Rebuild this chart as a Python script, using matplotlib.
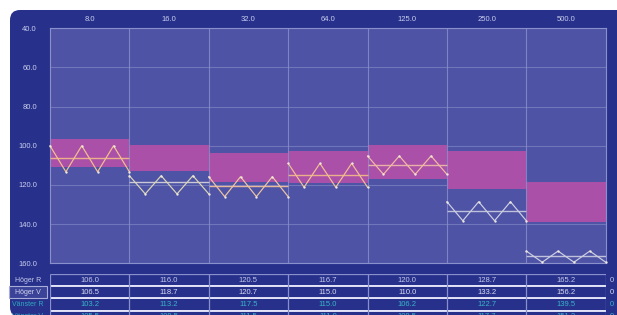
import numpy as np
import matplotlib
matplotlib.use("Agg")
import matplotlib.pyplot as plt
from matplotlib.patches import FancyBboxPatch, Rectangle

plt.rcParams['font.family'] = ['Liberation Sans', 'DejaVu Sans']

# ---- data ----
freq_labels = ["8.0", "16.0", "32.0", "64.0", "125.0", "250.0", "500.0"]
y_ticks = [40, 60, 80, 100, 120, 140, 160]
band_top = [96.7, 99.6, 103.6, 102.7, 99.6, 102.7, 118.4]
band_bottom = [110.7, 112.7, 118.4, 118.9, 117.1, 122.3, 138.8]
zig_peak = [100.0, 115.3, 115.8, 109.0, 105.2, 128.6, 153.8]
zig_valley = [113.3, 124.6, 126.0, 121.2, 114.6, 138.3, 159.5]
row_labels = ["Höger R", "Höger V", "Vänster R", "Vänster V"]
hoger_r = [106.0, 116.0, 120.5, 116.7, 120.0, 128.7, 165.2]
hoger_v = [106.5, 118.7, 120.7, 115.0, 110.0, 133.2, 156.2]
vanster_r = [103.2, 113.2, 117.5, 115.0, 106.2, 122.7, 139.5]
vanster_v = [105.5, 109.5, 111.5, 111.0, 109.5, 117.7, 151.2]
side_text = "0"

# ---- style ----
W, H = 617, 315
panel_col = "#27318b"
plot_col = "#4e53a5"
pink = "#ab50a9"
grid_col = "#6f76ba"
frame_col = "#8a90cc"
text_col = "#c9cdee"
zig_cols = ["#f2c290", "#dcd8b4", "#f0c6a0", "#f2c090", "#f2bca2", "#cfd0e2", "#cfd0e2"]
line_cols = ["#eab08a", "#c8c8d6", "#e8b89c", "#eab08a", "#e8b0a6", "#bfc0da", "#bfc0da"]

fig = plt.figure(figsize=(W / 100, H / 100), dpi=100)
fig.patch.set_facecolor("white")

bg = fig.add_axes([0, 0, 1, 1])
bg.set_xlim(0, W)
bg.set_ylim(H, 0)
bg.axis("off")
bg.add_patch(FancyBboxPatch((10, 10), 640, 307, boxstyle="round,pad=0,rounding_size=10",
                            fc=panel_col, ec="none"))

# main chart axes
L, R, T, B = 50, 605.7, 28.3, 263.2
ax = fig.add_axes([L / W, (H - B) / H, (R - L) / W, (B - T) / H])
ax.set_facecolor(plot_col)
ax.set_xlim(0, 7)
ax.set_ylim(160, 40)
ax.set_axisbelow(True)
ax.set_yticks(y_ticks)
ax.set_yticklabels([f"{v:.1f}" for v in y_ticks])
ax.grid(axis="y", color=grid_col, lw=0.8)
ax.grid(axis="x", visible=False)
ax.xaxis.set_ticks_position("top")
ax.set_xticks(np.arange(7) + 0.5)
ax.set_xticklabels(freq_labels)
ax.tick_params(axis="y", length=0, pad=9.4, labelsize=5.5, labelcolor=text_col)
ax.tick_params(axis="x", length=0, pad=3.5, labelsize=5.5, labelcolor=text_col)
for s in ax.spines.values():
    s.set_color(frame_col)
    s.set_linewidth(0.8)

xi = np.arange(7)
ax.bar(xi, np.array(band_bottom) - np.array(band_top), bottom=band_top, width=1.0,
       align="edge", color=pink, zorder=2)
ax.vlines(np.arange(1, 7), 40, 160, color=frame_col, lw=0.8, alpha=0.8, zorder=3)

for i in range(7):
    ax.hlines(hoger_v[i], i, i + 1, color=line_cols[i], lw=1.0, zorder=4)
    xs = i + np.arange(6) / 5
    ys = [zig_peak[i], zig_valley[i]] * 3
    ax.plot(xs, ys, color=zig_cols[i], lw=0.85, marker="o", ms=1.7,
            mfc="#efe8dc", mec="none", zorder=5, clip_on=False)

# table
row_h = 12.2
top = 274
tab = fig.add_axes([L / W, (H - (top + 4 * row_h)) / H, (R - L) / W, 4 * row_h / H])
tab.set_xlim(0, 7)
tab.set_ylim(4, 0)
tab.axis("off")
colw = (R - L) / 7
rows = [hoger_r, hoger_v, vanster_r, vanster_v]
row_text_cols = ["#c4c8ea", "#dcdcf2", "#36b6c8", "#36b6c8"]
label_cols = ["#c4c8ea", "#d4d6f0", "#2fa8c0", "#2fa8c0"]

tab.hlines(0, 0, 7, color=frame_col, lw=0.9)
for r in range(1, 4):
    tab.hlines(r - 0.06, 0, 7, color=frame_col, lw=0.6)
    tab.hlines(r, 0, 7, color="#eeeeff", lw=1.3)
tab.vlines(np.arange(8), 0, 4, color=frame_col, lw=0.9)

lab_x = (28 - L) / colw
box_x0 = (9 - L) / colw
box_x1 = (47 - L) / colw
tab.add_patch(Rectangle((box_x0, 1.02), box_x1 - box_x0, 0.93, fc="#3a4398",
                        ec="#a8acd8", lw=0.8, clip_on=False))
for r, vals in enumerate(rows):
    tab.text(lab_x, r + 0.5, row_labels[r], ha="center", va="center", fontsize=5,
             color=label_cols[r], clip_on=False)
    for i, v in enumerate(vals):
        tab.text(i + 0.5, r + 0.5, f"{v:.1f}", ha="center", va="center", fontsize=5.5,
                 color=row_text_cols[r], clip_on=False)
    tab.text((610 - L) / colw, r + 0.5, side_text, ha="left", va="center", fontsize=5.5,
             color=row_text_cols[r], clip_on=False)

fig.savefig("out.png", dpi=100, facecolor="white")
